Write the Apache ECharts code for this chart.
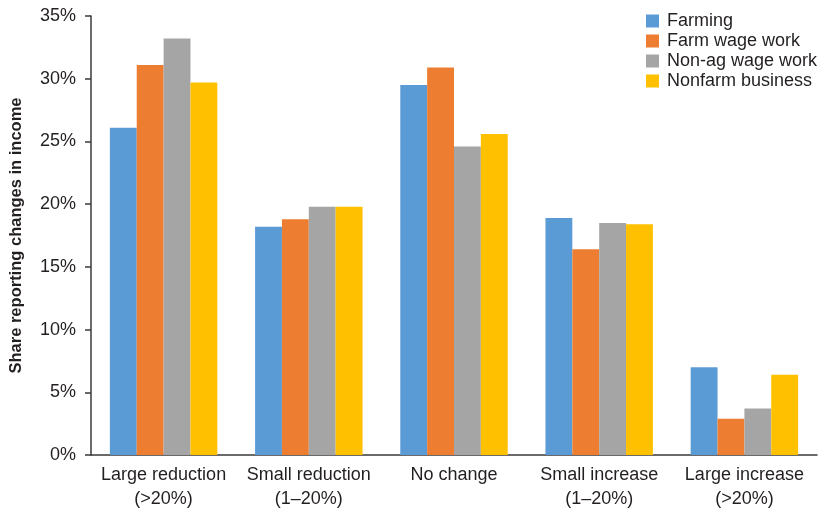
<!DOCTYPE html>
<html>
<head>
<meta charset="utf-8">
<script src="https://cdn.jsdelivr.net/npm/echarts@6/dist/echarts.min.js"></script>
<style>
  html, body { margin: 0; padding: 0; background: #fff; }
  #chart { width: 824px; height: 509px; }
</style>
</head>
<body>
<div id="chart"></div>
<script>
// Income-change categories and shares (%) by livelihood type
const categories = ['Large reduction\n(>20%)', 'Small reduction\n(1–20%)', 'No change', 'Small increase\n(1–20%)', 'Large increase\n(>20%)'];
const seriesNames = ['Farming', 'Farm wage work', 'Non-ag wage work', 'Nonfarm business'];
const farming = [26.1, 18.2, 29.5, 18.9, 7.0];
const farmWage = [31.1, 18.8, 30.9, 16.4, 2.9];
const nonAgWage = [33.2, 19.8, 24.6, 18.5, 3.7];
const nonfarmBusiness = [29.7, 19.8, 25.6, 18.4, 6.4];
const yTicks = [0, 5, 10, 15, 20, 25, 30, 35];

const colors = ['#5B9BD5', '#ED7D31', '#A5A5A5', '#FFC000'];
const font = "'Liberation Sans Narrow', 'Arial Narrow', 'Liberation Sans', sans-serif";
const textColor = '#231F20';
const values = [farming, farmWage, nonAgWage, nonfarmBusiness];

const chart = echarts.init(document.getElementById('chart'), null, { renderer: 'canvas' });
chart.setOption({
  animation: false,
  color: colors,
  textStyle: { fontFamily: font },
  grid: { left: 91, right: 7, top: 16, bottom: 54, containLabel: false, outerBoundsMode: 'none' },
  legend: {
    orient: 'vertical',
    left: 641,
    top: 6,
    itemWidth: 13,
    itemHeight: 13,
    itemGap: 0,
    icon: 'rect',
    textStyle: { fontFamily: font, fontSize: 18, lineHeight: 20, color: textColor, padding: [0, 0, 0, 3] },
    data: seriesNames
  },
  xAxis: {
    type: 'category',
    data: categories,
    axisLine: { lineStyle: { color: '#3a3a3a', width: 1.5 } },
    axisTick: { show: false },
    axisLabel: { fontFamily: font, fontSize: 18, color: textColor, lineHeight: 24, margin: 8, interval: 0 }
  },
  yAxis: {
    type: 'value',
    min: 0,
    max: 35,
    interval: 5,
    name: 'Share reporting changes in income',
    nameLocation: 'middle',
    nameGap: 66,
    nameRotate: 90,
    nameTextStyle: { fontFamily: font, fontSize: 16.5, fontWeight: 'bold', color: textColor },
    axisLine: { show: true, lineStyle: { color: '#3a3a3a', width: 1.5 } },
    axisTick: { show: true, length: 6, lineStyle: { color: '#3a3a3a', width: 1.5 } },
    splitLine: { show: false },
    axisLabel: {
      fontFamily: font, fontSize: 18, color: textColor, margin: 15,
      formatter: v => yTicks.includes(v) ? v + '%' : ''
    }
  },
  series: seriesNames.map((name, i) => ({
    name,
    type: 'bar',
    data: values[i],
    barGap: '0%',
    barCategoryGap: '26%',
    itemStyle: { color: colors[i] }
  }))
});
</script>
</body>
</html>
